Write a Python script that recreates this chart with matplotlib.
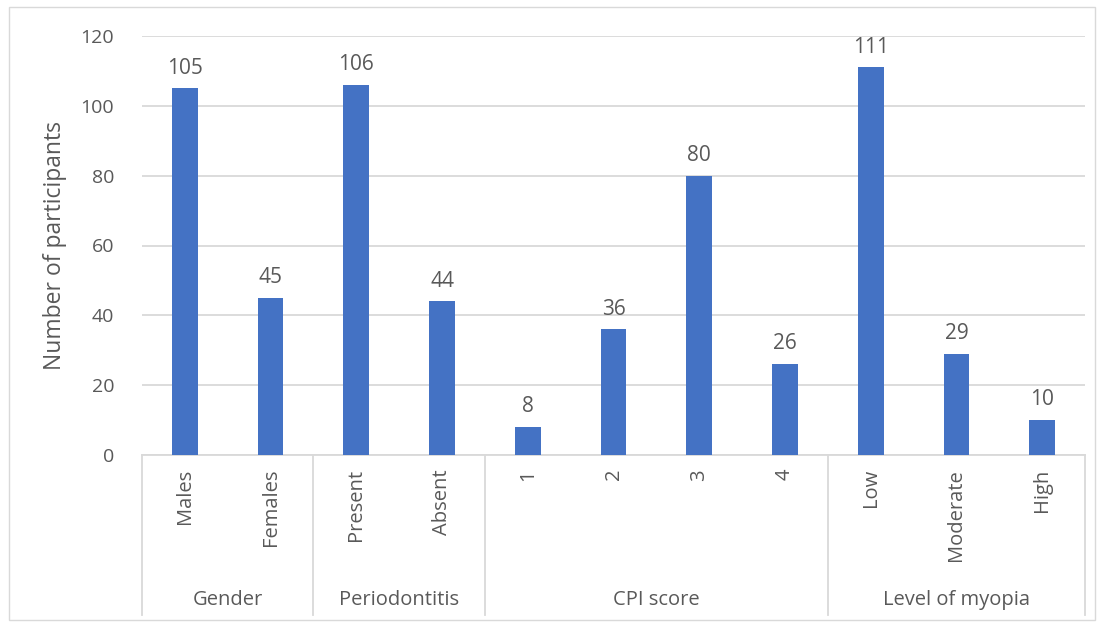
import matplotlib.pyplot as plt
import numpy as np
from matplotlib.lines import Line2D
from matplotlib.patches import Rectangle

# data
groups = ["Gender", "Periodontitis", "CPI score", "Level of myopia"]
group_items = [
    ["Males", "Females"],
    ["Present", "Absent"],
    ["1", "2", "3", "4"],
    ["Low", "Moderate", "High"],
]
group_values = [
    [105, 45],
    [106, 44],
    [8, 36, 80, 26],
    [111, 29, 10],
]

labels = [lab for g in group_items for lab in g]
values = [v for g in group_values for v in g]

plt.rcParams['font.family'] = ['Open Sans', 'DejaVu Sans']
text_col = '#595959'
grid_col = '#D9D9D9'

fig = plt.figure(figsize=(11.04, 6.24), dpi=100)
ax = fig.add_axes([142 / 1104, 1 - 455 / 624, (1085 - 142) / 1104, (455 - 36) / 624])

x = np.arange(len(values))
bars = ax.bar(x, values, width=0.3, color='#4472C4', zorder=3)
for xi, v in zip(x, values):
    ax.annotate(str(v), (xi, v), xytext=(0, 7), textcoords='offset points',
                ha='center', va='bottom', fontsize=15, color=text_col)

ax.set_xlim(-0.5, len(values) - 0.5)
ax.set_ylim(0, 120)
ax.set_yticks(range(0, 121, 20))
ax.grid(axis='y', color=grid_col, linewidth=1.3, zorder=0)
ax.tick_params(axis='y', length=0, labelsize=14, labelcolor=text_col, pad=20)
ax.set_xticks([])
for side in ['top', 'right', 'left']:
    ax.spines[side].set_visible(False)
ax.spines['bottom'].set_color(grid_col)
ax.spines['bottom'].set_linewidth(1.3)
ax.set_ylabel("Number of participants", fontsize=16.5, color=text_col, labelpad=10)

trans = ax.get_xaxis_transform()
axh = 455 - 36
# item labels (rotated) and group labels
for xi, lab in zip(x, labels):
    ax.text(xi, -14 / axh, lab, transform=trans, rotation=90, ha='center', va='top',
            fontsize=14.5, color=text_col)

start = -0.5
bounds = [start]
for g, items in zip(groups, group_items):
    end = start + len(items)
    ax.text((start + end) / 2, -145 / axh, g, transform=trans, ha='center', va='center',
            fontsize=14.5, color=text_col)
    bounds.append(end)
    start = end

for b in bounds:
    ax.add_line(Line2D([b, b], [0, -160 / axh], transform=trans, color=grid_col,
                       linewidth=1.3, clip_on=False))

# outer chart border
fig.add_artist(Rectangle((9 / 1104, 1 - 620 / 624), (1095 - 9) / 1104, (620 - 7) / 624,
                         transform=fig.transFigure, fill=False, edgecolor=grid_col, linewidth=1))

fig.savefig("out.png", dpi=100)
